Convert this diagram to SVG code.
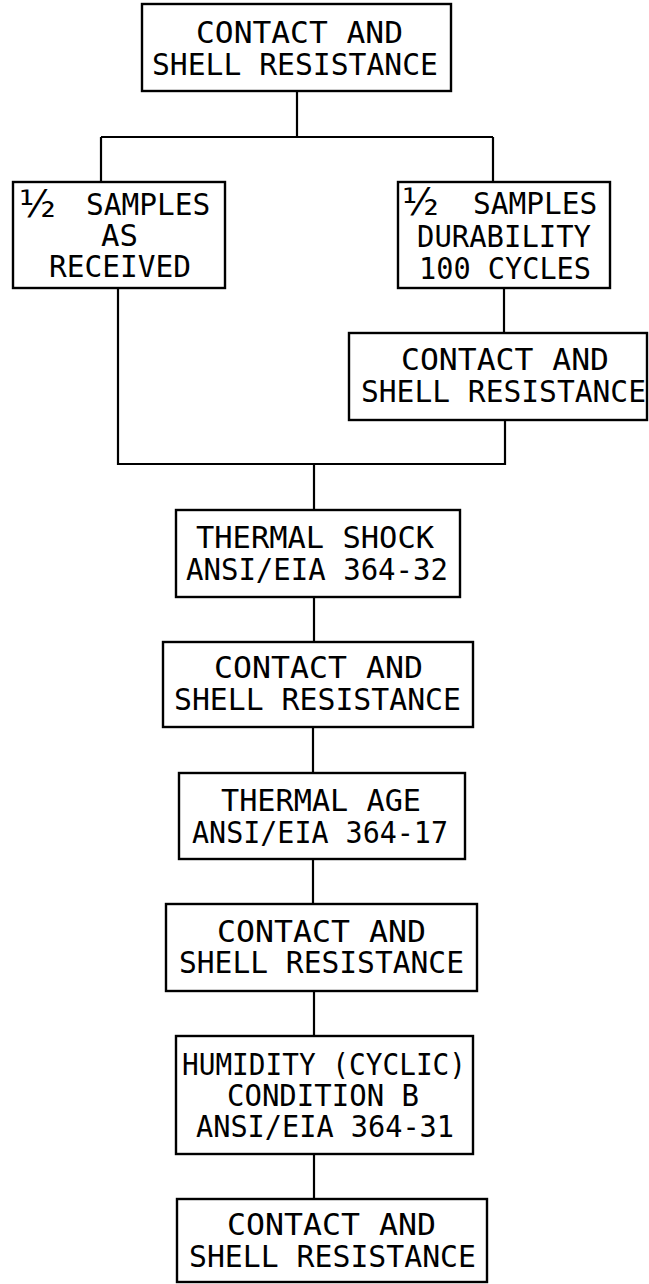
<svg xmlns="http://www.w3.org/2000/svg" width="649" height="1284" viewBox="0 0 649 1284">
<style>
.box{fill:#fff;stroke:#000;stroke-width:2.4}
.ln{fill:none;stroke:#000;stroke-width:2.2}
text{font-family:"DejaVu Sans Mono","Liberation Mono",monospace;font-size:29.5px;fill:#000}
.fr{font-family:"DejaVu Sans","Liberation Sans",sans-serif;font-size:38px}
</style>
<rect width="649" height="1284" fill="#fff"/>
<g id="connectors">
<path class="ln" d="M297,91 V137 M101,137 H493 M101,137 V182 M493,137 V182"/>
<path class="ln" d="M504,288 V333"/>
<path class="ln" d="M118,288 V464 H505 V420 M314,464 V510"/>
<path class="ln" d="M314,597 V642 M313,727 V773 M313,859 V904 M314,991 V1036 M314,1154 V1199"/>
</g>
<g id="n1">
<rect class="box" x="142" y="4" width="309" height="87"/>
<text x="196" y="43" textLength="207" lengthAdjust="spacingAndGlyphs">CONTACT AND</text>
<text x="152" y="75" textLength="286" lengthAdjust="spacingAndGlyphs">SHELL RESISTANCE</text>
</g>
<g id="n2">
<rect class="box" x="13" y="182" width="212" height="106"/>
<text><tspan class="fr" x="19" y="217">½</tspan><tspan x="86" y="215">SAMPLES</tspan></text>
<text x="101" y="246" textLength="37" lengthAdjust="spacingAndGlyphs">AS</text>
<text x="49" y="277" textLength="142" lengthAdjust="spacingAndGlyphs">RECEIVED</text>
</g>
<g id="n3">
<rect class="box" x="398" y="182" width="212" height="106"/>
<text><tspan class="fr" x="402" y="215" font-size="36">½</tspan><tspan x="473" y="214">SAMPLES</tspan></text>
<text x="417" y="246.5" textLength="174" lengthAdjust="spacingAndGlyphs">DURABILITY</text>
<text x="419" y="279" textLength="172" lengthAdjust="spacingAndGlyphs">100 CYCLES</text>
</g>
<g id="n4">
<rect class="box" x="349" y="333" width="298" height="87"/>
<text x="401" y="370" textLength="208" lengthAdjust="spacingAndGlyphs">CONTACT AND</text>
<text x="361" y="402" textLength="285" lengthAdjust="spacingAndGlyphs">SHELL RESISTANCE</text>
</g>
<g id="n5">
<rect class="box" x="176" y="510" width="284" height="87"/>
<text x="196" y="548" textLength="238" lengthAdjust="spacingAndGlyphs">THERMAL SHOCK</text>
<text x="186" y="580" textLength="262" lengthAdjust="spacingAndGlyphs">ANSI/EIA 364-32</text>
</g>
<g id="n6">
<rect class="box" x="163" y="642" width="310" height="85"/>
<text x="214" y="678" textLength="209" lengthAdjust="spacingAndGlyphs">CONTACT AND</text>
<text x="174" y="710" textLength="287" lengthAdjust="spacingAndGlyphs">SHELL RESISTANCE</text>
</g>
<g id="n7">
<rect class="box" x="179" y="773" width="286" height="86"/>
<text x="221" y="811" textLength="200" lengthAdjust="spacingAndGlyphs">THERMAL AGE</text>
<text x="192" y="843" textLength="256" lengthAdjust="spacingAndGlyphs">ANSI/EIA 364-17</text>
</g>
<g id="n8">
<rect class="box" x="166" y="904" width="311" height="87"/>
<text x="217" y="942" textLength="209" lengthAdjust="spacingAndGlyphs">CONTACT AND</text>
<text x="179" y="973" textLength="285" lengthAdjust="spacingAndGlyphs">SHELL RESISTANCE</text>
</g>
<g id="n9">
<rect class="box" x="176" y="1036" width="297" height="118"/>
<text x="182" y="1075" textLength="284" lengthAdjust="spacingAndGlyphs">HUMIDITY (CYCLIC)</text>
<text x="227" y="1106" textLength="192" lengthAdjust="spacingAndGlyphs">CONDITION B</text>
<text x="196" y="1137" textLength="258" lengthAdjust="spacingAndGlyphs">ANSI/EIA 364-31</text>
</g>
<g id="n10">
<rect class="box" x="177" y="1199" width="310" height="83"/>
<text x="227" y="1235" textLength="209" lengthAdjust="spacingAndGlyphs">CONTACT AND</text>
<text x="189" y="1267" textLength="287" lengthAdjust="spacingAndGlyphs">SHELL RESISTANCE</text>
</g>
</svg>
